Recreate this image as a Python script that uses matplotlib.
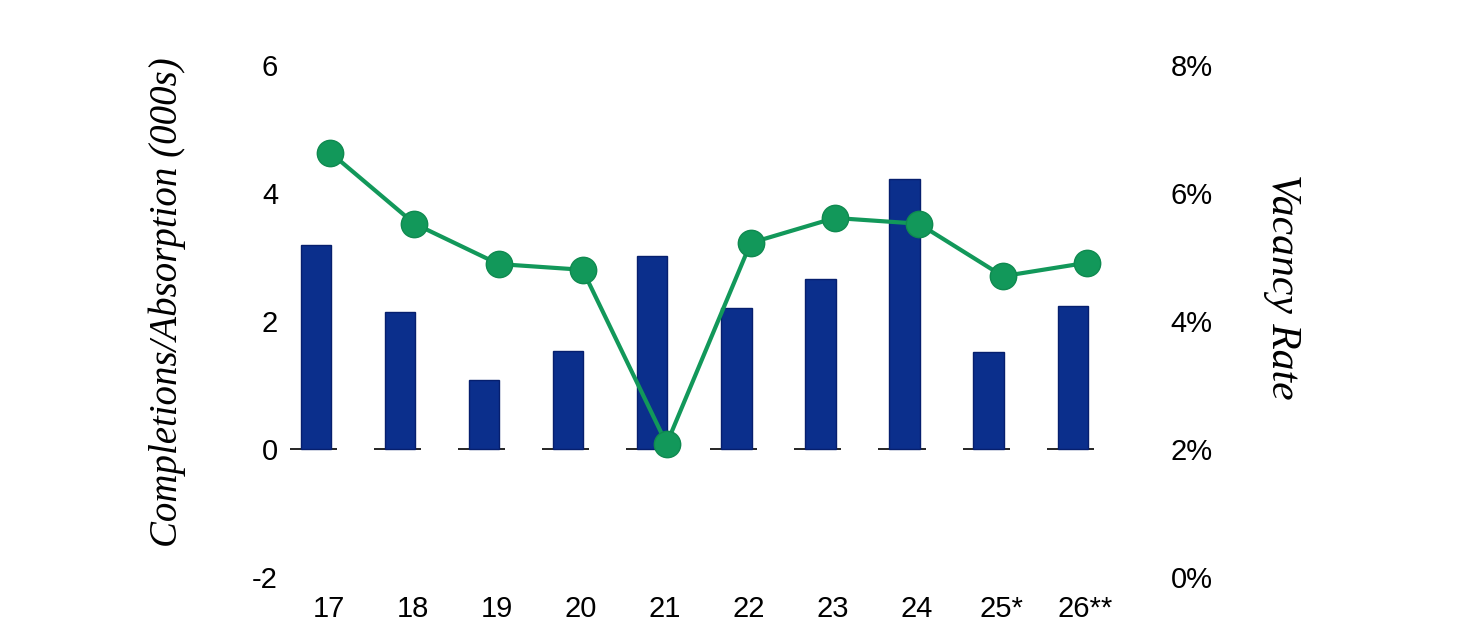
import numpy as np
import matplotlib
matplotlib.use("Agg")
import matplotlib.pyplot as plt
import matplotlib.ticker as ticker

# ── Data ──────────────────────────────────────────────────────────────────────
years        = ["17", "18", "19", "20", "21", "22", "23", "24", "25*", "26**"]
completions  = [3.19, 2.14, 1.08, 1.53, 3.02, 2.20, 2.66, 4.22, 1.52, 2.23]   # 000s
vacancy_pct  = [6.63, 5.52, 4.89, 4.80, 2.08, 5.22, 5.61, 5.52, 4.70, 4.91]   # %
left_ticks   = [-2, 0, 2, 4, 6]
right_ticks  = [0, 2, 4, 6, 8]

BAR_COLOR  = "#0b2f8c"
BAR_EDGE   = "#061f6e"
LINE_COLOR = "#12985a"
W, H = 1467, 626

plt.rcParams["font.family"] = ["Liberation Sans", "DejaVu Sans"]
plt.rcParams["axes.unicode_minus"] = False

fig = plt.figure(figsize=(W / 100, H / 100), dpi=100)
ax = fig.add_axes([285 / W, 1 - 577 / H, (1150 - 285) / W, (577 - 65) / H])
ax2 = ax.twinx()

x = np.arange(len(years))
ax.bar(x, completions, width=0.36, color=BAR_COLOR, edgecolor=BAR_EDGE,
       linewidth=1.0, zorder=2)
# broken zero line under each bar
ax.hlines([0] * len(x), x - 0.31, x + 0.25, color="black", linewidth=1.2, zorder=1)

ax2.plot(x + 0.17, vacancy_pct, color=LINE_COLOR, linewidth=3.0, marker="o",
         markersize=19, markerfacecolor=LINE_COLOR, markeredgecolor="#0f8a50",
         markeredgewidth=1.0, zorder=3)

ax.set_xlim(-0.37, 9.92)
ax.set_ylim(-2, 6)
ax2.set_ylim(0, 8)
ax.set_yticks(left_ticks)
ax2.set_yticks(right_ticks)
ax2.yaxis.set_major_formatter(ticker.FuncFormatter(lambda v, p: f"{v:.0f}%"))
ax.set_xticks(x + 0.15)
ax.set_xticklabels(years)

ax.tick_params(axis="y", length=0, pad=5, labelsize=21)
ax.tick_params(axis="x", length=0, pad=13, labelsize=21)
ax2.tick_params(axis="y", length=0, pad=15, labelsize=21)

for a in (ax, ax2):
    for s in a.spines.values():
        s.set_visible(False)

fig.text(167 / W, 1 - 302 / H, "Completions/Absorption (000s)",
         family="Liberation Serif", style="italic", fontsize=28,
         rotation=90, ha="center", va="center")
fig.text(1282 / W, 1 - 287 / H, "Vacancy Rate",
         family="Liberation Serif", style="italic", fontsize=30,
         rotation=-90, ha="center", va="center")

ax2.set_zorder(ax.get_zorder() + 1)
ax2.patch.set_visible(False)

fig.savefig("out.png", dpi=100, facecolor="white")
